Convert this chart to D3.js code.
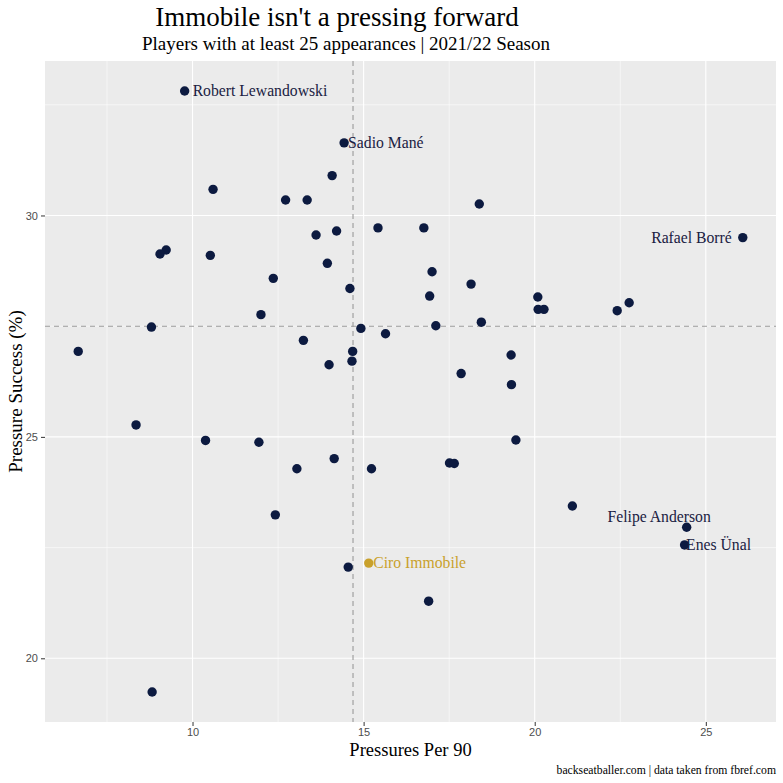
<!DOCTYPE html>
<html>
<head>
<meta charset="utf-8">
<script src="https://cdn.jsdelivr.net/npm/d3@7"></script>
<style>
  body { margin: 0; background: #fff; }
  text { font-family: 'Liberation Serif', 'Times New Roman', serif; }
</style>
</head>
<body>
<div id="container"></div>
<script>
/* DATA */
// pressures per 90 and pressure success (%) per player
var pressures = [9.77,14.43,14.08,10.60,12.72,13.35,18.38,15.42,14.21,13.61,9.23,9.05,10.52,13.94,12.36,14.60,12.00,8.80,14.92,15.64,13.24,6.66,14.68,14.66,13.99,8.35,10.38,11.94,14.14,13.05,15.23,16.76,26.08,17.00,18.14,16.93,20.09,22.76,20.10,20.27,22.41,18.44,17.11,19.31,17.85,19.32,19.45,17.51,17.65,12.42,14.55,15.15,8.82,16.90,21.10,24.44,24.38]
var success = [32.81,31.64,30.90,30.59,30.35,30.35,30.26,29.72,29.65,29.56,29.22,29.13,29.10,28.92,28.58,28.35,27.76,27.48,27.45,27.33,27.18,26.93,26.93,26.71,26.63,25.27,24.92,24.88,24.51,24.28,24.28,29.72,29.50,28.73,28.45,28.18,28.16,28.03,27.88,27.88,27.85,27.59,27.51,26.85,26.43,26.18,24.93,24.41,24.40,23.24,22.06,22.15,19.24,21.29,23.44,22.96,22.56]
// only some players are named (index into the arrays above)
var labelled = { 0: 'Robert Lewandowski', 1: 'Sadio Mané', 32: 'Rafael Borré', 51: 'Ciro Immobile', 55: 'Felipe Anderson', 56: 'Enes Ünal' }
var highlight = 'Ciro Immobile'
var refLines = [14.69, 27.50] // x and y reference lines
var xTicks = [10, 15, 20, 25]
var yTicks = [20, 25, 30]

var navy = '#0c1a40'
var gold = '#c9a12c'

/* SET UP */
var width = 783, height = 783
var margin = { top: 61, right: 7, bottom: 61, left: 45 }
var pw = width - margin.left - margin.right
var ph = height - margin.top - margin.bottom

var svg = d3.select('#container').append('svg')
    .attr('width', width)
    .attr('height', height)

var xExt = d3.extent(pressures), yExt = d3.extent(success)
var xPad = (xExt[1] - xExt[0]) * 0.05, yPad = (yExt[1] - yExt[0]) * 0.05

var x = d3.scaleLinear().domain([xExt[0] - xPad, xExt[1] + xPad]).range([0, pw])
var y = d3.scaleLinear().domain([yExt[0] - yPad, yExt[1] + yPad]).range([ph, 0])

var g = svg.append('g').attr('transform', 'translate(' + margin.left + ',' + margin.top + ')')

g.append('rect').attr('width', pw).attr('height', ph).attr('fill', '#ebebeb')

// minor grid
var xMinor = [7.5, 12.5, 17.5, 22.5], yMinor = [22.5, 27.5, 32.5]
g.selectAll('.xminor').data(xMinor).enter().append('line')
    .attr('x1', d => x(d)).attr('x2', d => x(d)).attr('y1', 0).attr('y2', ph)
    .attr('stroke', '#fff').attr('stroke-width', 0.55)
g.selectAll('.yminor').data(yMinor).enter().append('line')
    .attr('y1', d => y(d)).attr('y2', d => y(d)).attr('x1', 0).attr('x2', pw)
    .attr('stroke', '#fff').attr('stroke-width', 0.55)

// major grid
g.selectAll('.xmajor').data(xTicks).enter().append('line')
    .attr('x1', d => x(d)).attr('x2', d => x(d)).attr('y1', 0).attr('y2', ph)
    .attr('stroke', '#fff').attr('stroke-width', 1.1)
g.selectAll('.ymajor').data(yTicks).enter().append('line')
    .attr('y1', d => y(d)).attr('y2', d => y(d)).attr('x1', 0).attr('x2', pw)
    .attr('stroke', '#fff').attr('stroke-width', 1.1)

// axes
var xAxis = g.append('g').attr('transform', 'translate(0,' + ph + ')')
    .call(d3.axisBottom(x).tickValues(xTicks).tickSize(4).tickPadding(2))
var yAxis = g.append('g')
    .call(d3.axisLeft(y).tickValues(yTicks).tickSize(4).tickPadding(3))
;[xAxis, yAxis].forEach(function(a) {
    a.select('.domain').remove()
    a.selectAll('line').attr('stroke', '#333').attr('stroke-width', 1)
    a.selectAll('text').attr('fill', '#4d4d4d')
        .style('font-family', "'Liberation Sans Narrow', 'Liberation Sans', sans-serif")
        .style('font-size', '11px')
})

// reference lines
g.append('line')
    .attr('x1', x(refLines[0])).attr('x2', x(refLines[0])).attr('y1', 0).attr('y2', ph)
    .attr('stroke', '#9a9a9a').attr('stroke-width', 1.1).attr('stroke-dasharray', '5,4')
g.append('line')
    .attr('y1', y(refLines[1])).attr('y2', y(refLines[1])).attr('x1', 0).attr('x2', pw)
    .attr('stroke', '#9a9a9a').attr('stroke-width', 1.1).attr('stroke-dasharray', '5,4')

// points
var data = pressures.map(function(p, i) { return { name: labelled[i] || '', x: p, y: success[i] } })
g.selectAll('circle').data(data).enter().append('circle')
    .attr('cx', d => x(d.x)).attr('cy', d => y(d.y)).attr('r', 4.7)
    .attr('fill', d => d.name == highlight ? gold : navy)

// labels (offsets from the point)
var labelPos = {
    'Robert Lewandowski': [8, 0, 'start'],
    'Sadio Mané': [4, 0, 'start'],
    'Rafael Borré': [-11, 0, 'end'],
    'Ciro Immobile': [4.5, 0, 'start'],
    'Felipe Anderson': [-27.5, -10.5, 'middle'],
    'Enes Ünal': [1.5, 0, 'start']
}
g.selectAll('.lab').data(data.filter(d => d.name != '')).enter().append('text')
    .attr('x', d => x(d.x) + labelPos[d.name][0])
    .attr('y', d => y(d.y) + labelPos[d.name][1])
    .attr('dy', '0.33em')
    .attr('text-anchor', d => labelPos[d.name][2])
    .attr('fill', d => d.name == highlight ? gold : '#1a2142')
    .style('font-size', '15.7px')
    .text(d => d.name)

/* TITLES */
svg.append('text').attr('x', 337).attr('y', 26).attr('text-anchor', 'middle')
    .style('font-size', '27px').attr('fill', '#000').text("Immobile isn't a pressing forward")
svg.append('text').attr('x', 346).attr('y', 50).attr('text-anchor', 'middle')
    .style('font-size', '19px').attr('fill', '#000').text('Players with at least 25 appearances | 2021/22 Season')
svg.append('text').attr('x', margin.left + pw / 2).attr('y', 756).attr('text-anchor', 'middle')
    .style('font-size', '18.5px').attr('fill', '#000').text('Pressures Per 90')
svg.append('text').attr('transform', 'translate(22,' + (margin.top + ph / 2) + ') rotate(-90)')
    .attr('text-anchor', 'middle')
    .style('font-size', '19px').attr('fill', '#000').text('Pressure Success (%)')
svg.append('text').attr('x', 776).attr('y', 774).attr('text-anchor', 'end')
    .style('font-size', '11.7px').attr('fill', '#000').text('backseatballer.com | data taken from fbref.com')
</script>
</body>
</html>
